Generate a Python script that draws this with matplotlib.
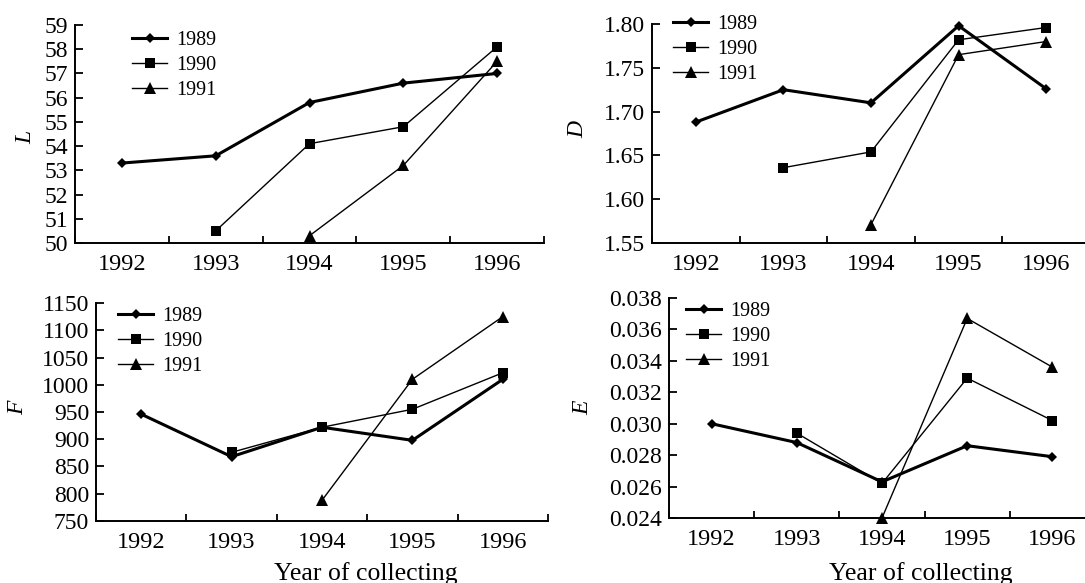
import numpy as np
import matplotlib
matplotlib.use("Agg")
import matplotlib.pyplot as plt
from matplotlib.ticker import FormatStrFormatter

plt.rcParams['font.family'] = ['Liberation Serif', 'DejaVu Serif']

years = ['1992', '1993', '1994', '1995', '1996']
series = ['1989', '1990', '1991']

# values per collecting year (None = not collected)
L_1989 = [53.3, 53.6, 55.8, 56.6, 57.0]
L_1990 = [None, 50.5, 54.1, 54.8, 58.1]
L_1991 = [None, None, 50.3, 53.2, 57.5]

D_1989 = [1.688, 1.725, 1.710, 1.798, 1.726]
D_1990 = [None, 1.636, 1.654, 1.782, 1.796]
D_1991 = [None, None, 1.571, 1.765, 1.780]

F_1989 = [946, 868, 922, 898, 1010]
F_1990 = [None, 876, 922, 955, 1022]
F_1991 = [None, None, 788, 1010, 1125]

E_1989 = [0.0300, 0.0288, 0.0263, 0.0286, 0.0279]
E_1990 = [None, 0.0294, 0.0262, 0.0329, 0.0302]
E_1991 = [None, None, 0.0240, 0.0367, 0.0336]

styles = [dict(marker='D', ms=5.5, lw=2.2), dict(marker='s', ms=6.5, lw=1.0), dict(marker='^', ms=8, lw=1.0)]

W, H = 1085, 583


def px(x, y):
    return x / W, 1 - y / H


def panel(box, data, ylabel, ylim, ystep, fmt, ylab_xy, leg_xy):
    # box = left, top, right, bottom in pixels
    l, t, r, b = box
    ax = fig.add_axes([l / W, 1 - b / H, (r - l) / W, (b - t) / H])
    for name, vals, st in zip(series, data, styles):
        xs = [i for i, v in enumerate(vals) if v is not None]
        ys = [v for v in vals if v is not None]
        ax.plot(xs, ys, color='black', label=name, markeredgewidth=0, clip_on=False, **st)
    ax.set_xlim(-0.5, 4.5)
    ax.set_ylim(*ylim)
    ax.set_yticks(np.arange(ylim[0], ylim[1] + ystep / 2, ystep))
    ax.yaxis.set_major_formatter(FormatStrFormatter(fmt))
    ax.set_xticks(np.arange(-0.5, 4.6, 1.0))
    ax.set_xticklabels([])
    ax.set_xticks(range(5), minor=True)
    ax.set_xticklabels(years, minor=True)
    ax.tick_params(axis='x', which='major', direction='in', length=5, width=1.3)
    ax.tick_params(axis='x', which='minor', length=0, pad=8, labelsize=17.5)
    ax.tick_params(axis='y', direction='in', length=6, width=1.3, pad=5, labelsize=17)
    for s in ['top', 'right']:
        ax.spines[s].set_visible(False)
    for s in ['left', 'bottom']:
        ax.spines[s].set_linewidth(1.4)
    fig.text(*px(*ylab_xy), ylabel, fontsize=17, style='italic', rotation=90,
             ha='center', va='center')
    lx, ly = leg_xy
    ax.legend(loc='upper left', bbox_to_anchor=((lx - l) / (r - l), (b - ly) / (b - t)),
              frameon=False, fontsize=14.5, handlelength=1.75, handletextpad=0.45,
              labelspacing=0.28, borderaxespad=0, borderpad=0)
    return ax


fig = plt.figure(figsize=(W / 100, H / 100), dpi=100)

panel((75, 25, 544, 243), [L_1989, L_1990, L_1991], 'L', (50, 59), 1, '%d',
      (26, 137), (132, 31))
panel((652, 24, 1090, 243), [D_1989, D_1990, D_1991], 'D', (1.55, 1.80), 0.05, '%.2f',
      (578, 130), (673, 15))
panel((96, 303, 548, 521), [F_1989, F_1990, F_1991], 'F', (750, 1150), 50, '%d',
      (18, 408), (118, 307))
panel((669, 298, 1095, 518), [E_1989, E_1990, E_1991], 'E', (0.024, 0.038), 0.002, '%.3f',
      (583, 408), (686, 302))

fig.text(*px(366, 580), 'Year of collecting', fontsize=18.5, ha='center', va='baseline')
fig.text(*px(921, 580), 'Year of collecting', fontsize=18.5, ha='center', va='baseline')

fig.savefig('out.png', dpi=100)
